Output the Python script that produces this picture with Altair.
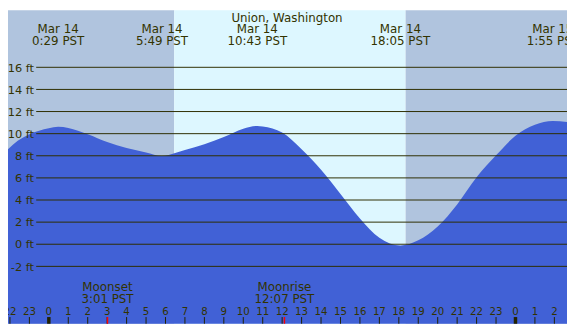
import altair as alt
import pandas as pd

# ---- data ----
tide_hours = [-2.1, -1.6, -1, 0, 0.48, 1, 2, 3, 4, 5, 5.82, 6.5, 7, 8, 9, 10, 10.72, 11, 12, 13,
              14, 15, 16, 17, 18.08, 19, 20, 21, 22, 23, 24, 25, 25.92, 26.65]
tide_ft = [8.6, 9.35, 9.95, 10.5, 10.63, 10.52, 9.95, 9.25, 8.7, 8.3, 7.98, 8.25, 8.52, 9.05, 9.7, 10.45,
           10.7, 10.65, 10.1, 8.6, 6.74, 4.55, 2.33, 0.58, -0.12, 0.35, 1.6, 3.6, 6.05, 8.04, 9.8,
           10.8, 11.15, 11.05]

event_hours = [0.48, 5.82, 10.72, 18.08, 25.92]
event_dates = ["Mar 14", "Mar 14", "Mar 14", "Mar 14", "Mar 15"]
event_times = ["0:29 PST", "5:49 PST", "10:43 PST", "18:05 PST", "1:55 PST"]

moon_hours = [3.017, 12.117]
moon_names = ["Moonset", "Moonrise"]
moon_times = ["3:01 PST", "12:07 PST"]

sunrise, sunset = 6.45, 18.35
x_min, x_max = -2.1, 26.65
y_min, y_max = -7.19, 21.16

grid_ft = [-2, 0, 2, 4, 6, 8, 10, 12, 14, 16]
grid_labels = [f"{v} ft" for v in grid_ft]

tick_hours = list(range(-2, 27))
tick_labels = [str(h % 24) for h in tick_hours]
tick_widths = [3.5 if h % 24 == 0 else 1 for h in tick_hours]

title = "Union, Washington"

# ---- layout ----
W, H = 567, 318
TXT = "#333300"
FONT = "DejaVu Sans"

xs = alt.Scale(domain=[x_min, x_max], nice=False, zero=False)
ys = alt.Scale(domain=[y_min, y_max], nice=False, zero=False)

bg_df = pd.DataFrame({"start": [x_min, sunrise, sunset],
                      "end": [sunrise, sunset, x_max],
                      "kind": ["night", "day", "night"]})
bg = alt.Chart(bg_df).mark_rect().encode(
    x=alt.X("start:Q", scale=xs, axis=None), x2="end:Q",
    y=alt.value(0), y2=alt.value(H),
    color=alt.Color("kind:N", scale=alt.Scale(domain=["night", "day"],
                                               range=["#b0c4de", "#ddf7ff"]), legend=None))

tide_df = pd.DataFrame({"h": tide_hours, "ft": tide_ft})
area = alt.Chart(tide_df).mark_area(color="#4161d6", interpolate="monotone", opacity=1).encode(
    x=alt.X("h:Q", scale=xs, axis=None),
    y=alt.Y("ft:Q", scale=ys, axis=None),
    y2=alt.datum(y_min))

grid_df = pd.DataFrame({"ft": grid_ft, "label": grid_labels})
grid = alt.Chart(grid_df).mark_rule(color="#2e2e00", strokeWidth=1).encode(
    y=alt.Y("ft:Q", scale=ys, axis=None), x=alt.value(28.6), x2=alt.value(W))
ylab = alt.Chart(grid_df).mark_text(align="right", baseline="alphabetic", dy=4.3,
                                    fontSize=11.5, font=FONT, color=TXT).encode(
    y=alt.Y("ft:Q", scale=ys, axis=None), x=alt.value(26.3), text="label:N")

ev_df = pd.DataFrame({"h": event_hours, "d": event_dates, "t": event_times})
ev_date = alt.Chart(ev_df).mark_text(align="center", baseline="alphabetic", fontSize=12,
                                     font=FONT, color=TXT).encode(
    x=alt.X("h:Q", scale=xs, axis=None), y=alt.value(23.4), text="d:N")
ev_time = alt.Chart(ev_df).mark_text(align="center", baseline="alphabetic", fontSize=12,
                                     font=FONT, color=TXT).encode(
    x=alt.X("h:Q", scale=xs, axis=None), y=alt.value(35.1), text="t:N")

title_df = pd.DataFrame({"t": [title]})
title_mark = alt.Chart(title_df).mark_text(align="center", baseline="alphabetic", fontSize=12,
                                           font=FONT, color=TXT).encode(
    x=alt.value(283), y=alt.value(11.6), text="t:N")

moon_df = pd.DataFrame({"h": moon_hours, "n": moon_names, "t": moon_times})
moon_name = alt.Chart(moon_df).mark_text(align="center", baseline="alphabetic", fontSize=12,
                                         font=FONT, color=TXT).encode(
    x=alt.X("h:Q", scale=xs, axis=None), y=alt.value(284.8), text="n:N")
moon_time = alt.Chart(moon_df).mark_text(align="center", baseline="alphabetic", fontSize=12,
                                         font=FONT, color=TXT).encode(
    x=alt.X("h:Q", scale=xs, axis=None), y=alt.value(296.6), text="t:N")

tick_df = pd.DataFrame({"h": tick_hours, "lbl": tick_labels, "w": tick_widths})
ticks = alt.Chart(tick_df).mark_rule(color="#222200").encode(
    x=alt.X("h:Q", scale=xs, axis=None), y=alt.value(311.2), y2=alt.value(H),
    strokeWidth=alt.StrokeWidth("w:Q", scale=None, legend=None))
tick_lab = alt.Chart(tick_df).mark_text(align="center", baseline="alphabetic", fontSize=11.5,
                                        font="DejaVu Sans Condensed, DejaVu Sans", color=TXT).encode(
    x=alt.X("h:Q", scale=xs, axis=None), y=alt.value(309.2), text="lbl:N")
moon_ticks = alt.Chart(moon_df).mark_rule(color="#ff0000", strokeWidth=1.5).encode(
    x=alt.X("h:Q", scale=xs, axis=None), y=alt.value(311.2), y2=alt.value(H))

chart = alt.layer(bg, area, grid, ylab, ev_date, ev_time, title_mark, moon_name, moon_time,
                  ticks, moon_ticks, tick_lab).properties(
    width=W, height=H, padding=0, autosize=alt.AutoSizeParams(type="none"),
    background="white"
).configure_view(stroke=None)

chart.save("out.html", embed_options={"renderer": "svg", "actions": False})
